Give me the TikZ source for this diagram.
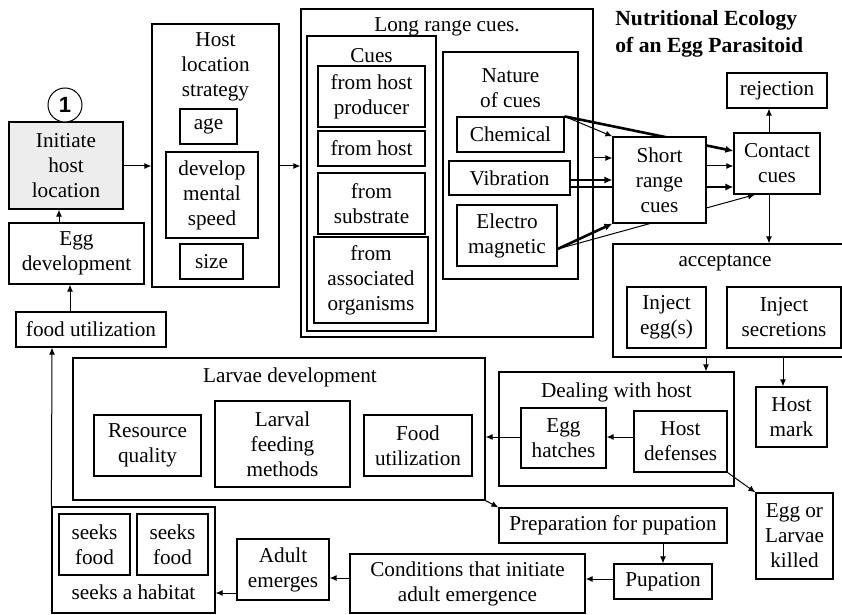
\documentclass[tikz,border=0pt]{standalone}
\usepackage{fontspec}
\setmainfont{Liberation Serif}
\setsansfont{Liberation Sans}
\usetikzlibrary{arrows.meta}

\tikzset{
  box/.style={draw,line width=0.6pt,inner sep=0pt,align=center},
  ttl/.style={inner sep=0pt,align=center},
  link/.style={-{Latex[length=3.5pt,width=3pt]},line width=0.5pt},
  heavylink/.style={-{Latex[length=4pt,width=3.6pt]},line width=1.3pt},
}

% box from its corners (x1,y1)-(x2,y2), in pixels of the picture
\newcommand{\nbox}[7][]{%
  \node[box,#1,minimum width={(#5-#3)*0.5pt},minimum height={(#6-#4)*0.5pt}]
    (#2) at ({(#3+#5)/2},{(#4+#6)/2}) {#7};}

\begin{document}
\begin{tikzpicture}[x=0.5pt,y=-0.5pt,font=\fontsize{10.6}{12.5}\selectfont]
\useasboundingbox (0,0) rectangle (842,615);
\clip (0,0) rectangle (842,615);

% left column
\nbox[fill=gray!14]{init}{9}{122}{123}{209}{Initiate\\host\\location}
\node[circle,draw,line width=0.5pt,minimum size=17pt,inner sep=0pt,fill=white,
  font=\sffamily\bfseries\fontsize{11}{12}\selectfont] (one) at (65,105) {1};
\nbox{eggd}{9}{223}{144}{284}{Egg\\development}
\nbox{foodu}{16}{312}{166}{347}{food utilization}

% host location strategy
\nbox{hls}{152}{24}{279}{287}{}
\node[ttl] (hlsT) at (215.5,67) {Host\\location\\strategy};
\nbox{age}{180}{109}{237}{144}{age}
\nbox{dms}{166}{152}{258}{238}{develop\\mental\\speed}
\nbox{size}{180}{244}{243}{279}{size}

% long range cues
\nbox{lrc}{301}{9}{593}{337}{}
\node[ttl] (lrcT) at (447,27) {Long range cues.};
\nbox{cues}{307}{36}{436}{331}{}
\node[ttl] (cuesT) at (371.5,56) {Cues};
\nbox{fhp}{318}{66}{425}{127}{from host\\producer}
\nbox{fh}{318}{131}{425}{166}{from host}
\nbox{fs}{318}{173}{425}{234}{from\\substrate}
\nbox{fao}{314}{237}{428}{323}{from\\associated\\organisms}
\nbox{nat}{443}{52}{578}{279}{}
\node[ttl] (natT) at (510.5,88) {Nature\\of cues};
\nbox{chem}{457}{117}{564}{152}{Chemical}
\nbox{vib}{449}{161}{570}{195}{Vibration}
\nbox{elec}{457}{205}{557}{266}{Electro\\magnetic}

\node[anchor=north west,align=left,inner sep=0pt,
  font=\bfseries\fontsize{10.8}{13.5}\selectfont] (head) at (615,10)
  {Nutritional Ecology\\of an Egg Parasitoid};

% contact and acceptance
\nbox{cont}{734}{133}{820}{194}{Contact\\cues}
\nbox{rej}{727}{73}{827}{108}{rejection}
\nbox{acc}{613}{244}{870}{357}{}
\node[ttl] (accT) at (725,263) {acceptance};
\nbox{inje}{627}{287}{706}{348}{Inject\\egg(s)}
\nbox{injs}{727}{287}{841}{348}{Inject\\secretions}

% cues that run under the short range box
\draw[heavylink] (chem.north east) -- (cont.west |- 0,151);
\draw[heavylink] (vib.east |- 0,187) -- (cont.west |- 0,187);
\draw[link] (elec.east |- 0,249) -- (cont.south -| 755,0);
\nbox[fill=white]{srt}{613}{137}{706}{223}{Short\\range\\cues}
\draw[link] (chem.north east) -- (srt.north west);
\draw[link] (lrc.east |- 0,158) -- (srt.west |- 0,158);
\draw[heavylink] (vib.east |- 0,180) -- (srt.west |- 0,180);
\draw[heavylink] (elec.east |- 0,249) -- (srt.south west);
\draw[link] (srt.east |- 0,166) -- (cont.west |- 0,166);

% dealing with host
\nbox{dwh}{499}{372}{734}{486}{}
\node[ttl] (dwhT) at (616.5,392) {Dealing with host};
\nbox{eh}{521}{408}{606}{468}{Egg\\hatches}
\nbox{hd}{634}{411}{727}{472}{Host\\defenses}
\nbox{hm}{756}{387}{827}{447}{Host\\mark}
\nbox{ek}{756}{493}{833}{579}{Egg or\\Larvae\\killed}

% larvae development
\nbox{larv}{73}{358}{485}{500}{}
\node[ttl] (larvT) at (290,377) {Larvae development};
\nbox{rq}{94}{415}{201}{476}{Resource\\quality}
\nbox{lfm}{215}{401}{350}{487}{Larval\\feeding\\methods}
\nbox{fu}{364}{415}{472}{476}{Food\\utilization}

% pupation and adult
\nbox{prep}{499}{508}{727}{543}{Preparation for pupation}
\nbox{pup}{614}{564}{712}{599}{Pupation}
\nbox{cond}{350}{554}{585}{613}{Conditions that initiate\\adult emergence}
\nbox{adult}{237}{539}{329}{600}{Adult\\emerges}
\nbox{hab}{52}{507}{215}{613}{}
\node[ttl] (habT) at (133.5,592) {seeks a habitat};
\nbox{sfa}{59}{514}{130}{575}{seeks\\food}
\nbox{sfb}{137}{514}{208}{575}{seeks\\food}

% connectors
\draw[link] (eggd.north -| 59,0) -- (init.south -| 59,0);
\draw[link] (foodu.north -| 70,0) -- (eggd.south -| 70,0);
\draw[link] (init.east |- 0,166) -- (hls.west |- 0,166);
\draw[link] (hls.east |- 0,166) -- (lrc.west |- 0,166);
\draw[link] (cont.north -| 769,0) -- (rej.south -| 769,0);
\draw[link] (cont.south -| 769,0) -- (acc.north -| 769,0);
\draw[link] (acc.south -| 706,0) -- (dwh.north -| 706,0);
\draw[link] (acc.south -| 783,0) -- (hm.north -| 783,0);
\draw[link] (hd.west |- 0,437) -- (eh.east |- 0,437);
\draw[link] (eh.west |- 0,437) -- (larv.east |- 0,437);
\draw[link] (hd.south east) -- (ek.north west);
\draw[link] (larv.south east) -- (prep.north west);
\draw[link] (prep.south -| 663,0) -- (pup.north -| 663,0);
\draw[link] (pup.west |- 0,579) -- (cond.east |- 0,579);
\draw[link] (cond.west |- 0,578) -- (adult.east |- 0,578);
\draw[link] (adult.west |- 0,593) -- (hab.east |- 0,593);
\draw[link] (hab.north west) -- (foodu.south -| 52,0);

\end{tikzpicture}
\end{document}
